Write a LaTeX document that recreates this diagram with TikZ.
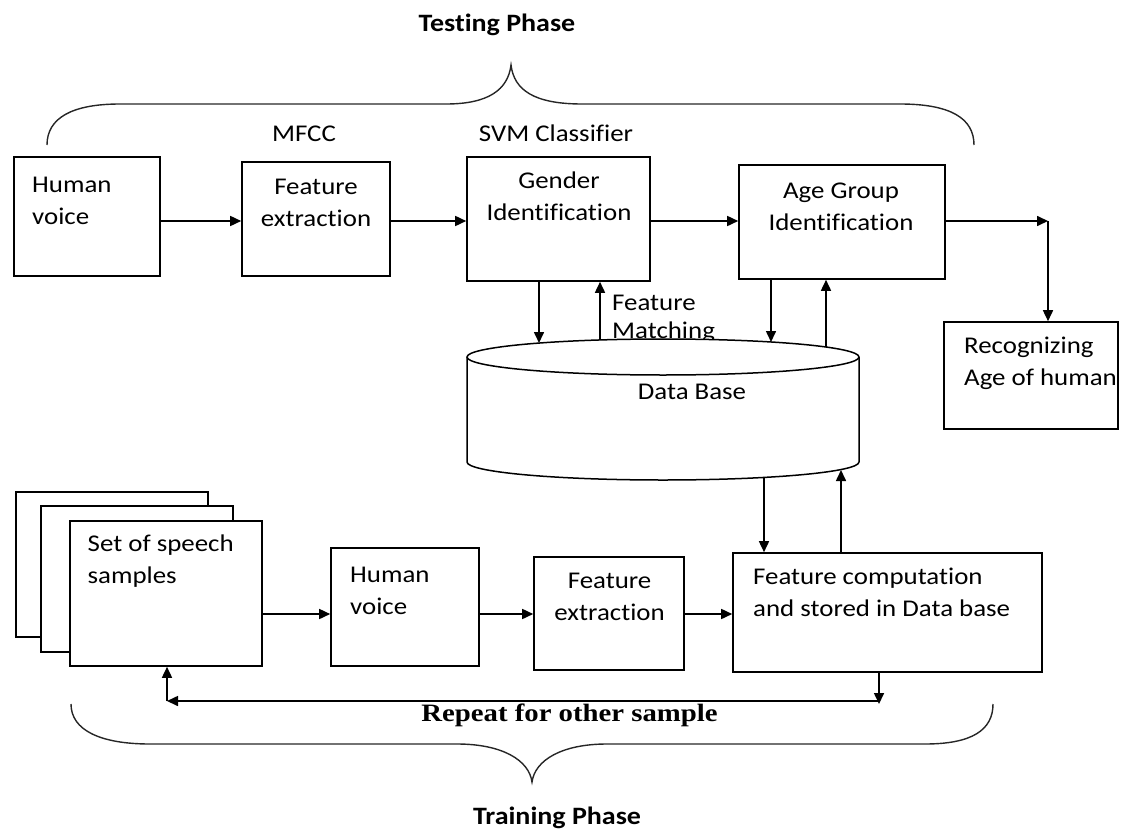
\documentclass[tikz,border=0pt]{standalone}
\usepackage{fontspec}
\setmainfont{Carlito}[FakeStretch=1.12, Ligatures=NoCommon]
\newfontfamily\repfont{Liberation Serif}[FakeStretch=1.15]
\usetikzlibrary{arrows.meta}
\begin{document}
\begin{tikzpicture}[x=1pt,y=-1pt,
  boxst/.style={draw, line width=1.6pt, fill=white, inner sep=0pt},
  arr/.style={line width=1.6pt, -{Triangle[length=11pt,width=10pt]}},
  brace/.style={line width=1.4pt, draw=black!85},
  txt/.style={inner sep=0pt, font=\fontsize{24}{32}\selectfont},
  tl/.style={txt, anchor=north west, align=left},
  tc/.style={txt, anchor=north, align=center},
  ttl/.style={inner sep=0pt, anchor=base, font=\fontsize{25}{30}\selectfont\bfseries}
]
\useasboundingbox (0,0) rectangle (1126,832);

% ---------- titles and braces ----------
\node[ttl] (ttest) at (497,31.7) {Testing Phase};
\draw[brace] (47,145) .. controls (47,118) and (72,104) .. (120,104)
  -- (446,104) .. controls (488,104) and (508,90) .. (511,65)
  .. controls (514,90) and (534,104) .. (582,104)
  -- (900,104) .. controls (950,104) and (974,118) .. (974,145);
\node[txt, anchor=base] (mfcc) at (304,141.7) {MFCC};
\node[txt, anchor=base] (svm) at (556,141.7) {SVM Classifier};

% ---------- testing row ----------
\node[boxst, minimum width=146pt, minimum height=119pt] (hv1) at (87,216.5) {};
\node[boxst, minimum width=148pt, minimum height=114pt] (fe1) at (316,219) {};
\node[boxst, minimum width=183pt, minimum height=124pt] (gi) at (558.5,219) {};
\node[boxst, minimum width=206pt, minimum height=114pt] (ag) at (842,222) {};
\node[boxst, minimum width=174pt, minimum height=107pt] (rec) at (1031,375.5) {};

\node[tl] (thv1) at (32,170.3) {\strut Human\\\strut voice};
\node[tc] (tfe1) at (316,171.6) {\strut Feature\\\strut extraction};
\node[tc] (tgi) at (559,165.6) {\strut Gender\\\strut Identification};
\node[tc] (tag) at (841,175.6) {\strut Age Group\\\strut Identification};
\node[tl] (trec) at (964,331) {\strut Recognizing\\\strut Age of human};

\coordinate (r1) at (0,221);
\coordinate (c1) at (1048,221);
\draw[arr] (hv1.east |- r1) -- (fe1.west |- r1);
\draw[arr] (fe1.east |- r1) -- (gi.west |- r1);
\draw[arr] (gi.east |- r1) -- (ag.west |- r1);
\draw[arr] (ag.east |- r1) -- (c1);
\draw[arr] (c1) -- (rec.north -| c1);

% ---------- database ----------
\node[inner sep=0pt, anchor=north west, align=left, font=\fontsize{24}{28}\selectfont] (tfm) at (612,291.1) {\strut Feature\\\strut Matching};
\draw[line width=1.5pt, fill=white] (467,357) -- (467,462)
  arc[start angle=180, end angle=360, x radius=196pt, y radius=18pt] -- (859,357);
\draw[line width=1.5pt, fill=white] (663,357) ellipse [x radius=196pt, y radius=18pt];
\node[tc] (db) at (692,376.6) {\strut Data Base};

\coordinate (dbg1) at (539,343);
\coordinate (dbg2) at (600,340);
\coordinate (dba1) at (771,342);
\coordinate (dba2) at (826,347);
\coordinate (dbb1) at (764,477);
\coordinate (dbb2) at (841,470);

\draw[arr] (gi.south -| dbg1) -- (dbg1);
\draw[arr] (dbg2) -- (gi.south -| dbg2);
\draw[arr] (ag.south -| dba1) -- (dba1);
\draw[arr] (dba2) -- (ag.south -| dba2);

% ---------- training row ----------
\draw[line width=1.6pt, fill=white] (16,492) rectangle (208,637);
\draw[line width=1.6pt, fill=white] (41,506) rectangle (233,652);
\node[boxst, minimum width=192pt, minimum height=145pt] (ss) at (166,593.5) {};
\node[boxst, minimum width=148pt, minimum height=118pt] (hv2) at (405,607) {};
\node[boxst, minimum width=150pt, minimum height=113pt] (fe2) at (609,613.5) {};
\node[boxst, minimum width=309pt, minimum height=119pt] (fc) at (887.5,612.5) {};

\node[tl] (tss) at (87.5,528.6) {\strut Set of speech\\\strut samples};
\node[tl] (thv2) at (350,560.3) {\strut Human\\\strut voice};
\node[tc] (tfe2) at (609.6,565.6) {\strut Feature\\\strut extraction};
\node[tl] (tfc) at (753,561.6) {\strut Feature computation\\\strut and stored in Data base};

\coordinate (r2) at (0,614);
\draw[arr] (ss.east |- r2) -- (hv2.west |- r2);
\draw[arr] (hv2.east |- r2) -- (fe2.west |- r2);
\draw[arr] (fe2.east |- r2) -- (fc.west |- r2);

\draw[arr] (dbb1) -- (fc.north -| dbb1);
\draw[arr] (fc.north -| dbb2) -- (dbb2);

% ---------- repeat loop ----------
\coordinate (rp1) at (879,701);
\coordinate (rp2) at (167,701);
\draw[arr] (fc.south -| rp1) -- ([yshift=-3pt]rp1);
\draw[arr] (rp1) -- (rp2);
\draw[arr] (rp2) -- (ss.south -| rp2);
\node[inner sep=0pt, anchor=base, font=\fontsize{25}{30}\selectfont\repfont\bfseries] (trep) at (569.5,721.7) {Repeat for other sample};

\draw[brace] (71,704) .. controls (71,730) and (100,744) .. (150,744)
  -- (457,744) .. controls (502,744) and (529,760) .. (532,782)
  .. controls (535,760) and (562,744) .. (607,744)
  -- (925,744) .. controls (972,744) and (993,730) .. (993,704);
\node[ttl] (ttrain) at (557,824) {Training Phase};
\end{tikzpicture}
\end{document}
